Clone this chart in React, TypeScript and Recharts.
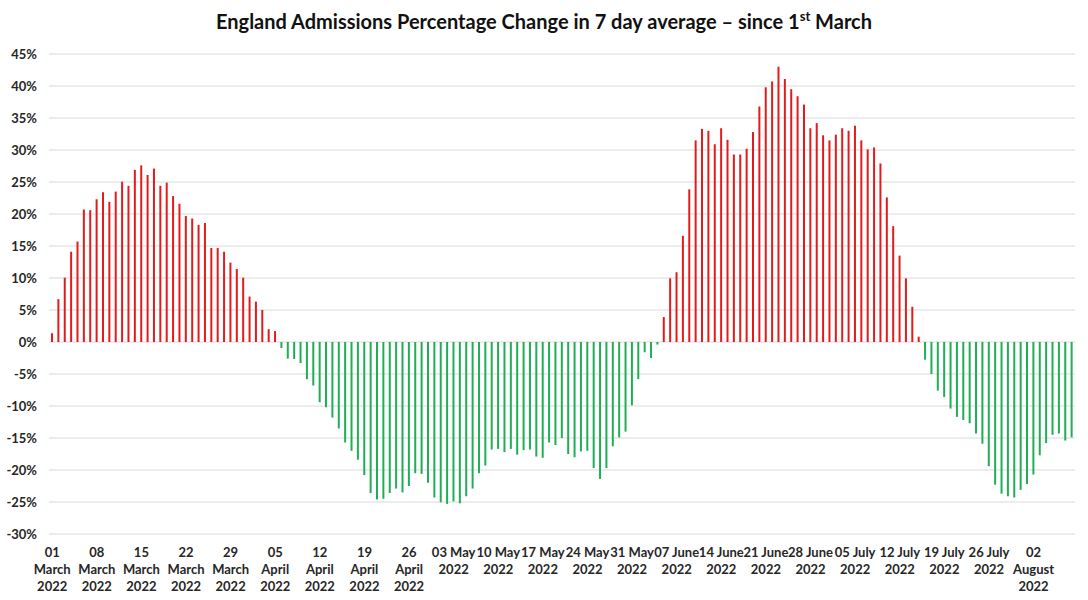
import React from "react";
import { BarChart, Bar, XAxis, YAxis, CartesianGrid, Cell } from "recharts";

// Percentage change in 7-day average admissions, one value per day from 01 March 2022
const marchWave = [
  1.35, 6.7, 10.05, 14.1, 15.7, 20.7, 20.6, 22.3, 23.4, 21.9,
  23.5, 25.05, 24.4, 26.9, 27.6, 26.1, 27.1, 24.4, 24.9, 22.8,
  21.6, 19.7, 19.3, 18.3, 18.6, 14.7, 14.7, 14.1, 12.4, 11.4,
  10.05, 7.1, 6.3, 5.0, 2.0, 1.7,
];
const aprilMayDecline = [
  -0.94, -2.6, -2.66, -3.3, -5.8, -6.8, -9.4, -10.2, -11.8, -13.5,
  -15.7, -17.0, -18.4, -20.8, -23.6, -24.6, -24.5, -23.6, -22.9, -23.5,
  -22.5, -20.5, -20.6, -22.0, -24.3, -25.05, -25.3, -24.9, -25.2, -24.1,
  -22.9, -20.5, -19.3, -16.8, -16.7, -17.2, -16.7, -17.6, -16.9, -16.8,
  -17.9, -18.1, -15.7, -16.1, -15.0, -17.5, -18.0, -17.1, -17.0, -19.7,
  -21.4, -19.7, -16.3, -14.9, -14.0, -9.9, -5.8, -1.6, -2.5, -0.4,
];
const juneJulyWave = [
  3.9, 9.95, 10.9, 16.6, 23.85, 31.5, 33.3, 33.0, 30.9, 33.4,
  31.6, 29.3, 29.3, 30.2, 32.8, 36.8, 39.8, 40.7, 43.0, 41.1,
  39.5, 38.4, 37.1, 33.4, 34.2, 32.3, 31.5, 32.4, 33.4, 33.0,
  33.8, 31.5, 30.1, 30.4, 27.9, 22.6, 18.1, 13.5, 9.95, 5.5,
  0.83,
];
const julyAugustDecline = [
  -2.76, -5.0, -7.6, -8.6, -10.4, -11.7, -12.2, -12.7, -14.3, -15.9,
  -19.4, -22.3, -23.7, -24.1, -24.3, -23.1, -22.2, -20.7, -17.7, -15.8,
  -14.5, -14.3, -15.4, -14.9,
];
const values = [...marchWave, ...aprilMayDecline, ...juneJulyWave, ...julyAugustDecline];

const monthNames = [
  "January", "February", "March", "April", "May", "June",
  "July", "August", "September", "October", "November", "December",
];
const categories = values.map((_, i) => {
  const d = new Date(Date.UTC(2022, 2, 1 + i));
  return `${String(d.getUTCDate()).padStart(2, "0")} ${monthNames[d.getUTCMonth()]} 2022`;
});

// Weekly tick labels (as wrapped in the original)
const tickLabels = [
  ["01", "March", "2022"], ["08", "March", "2022"], ["15", "March", "2022"],
  ["22", "March", "2022"], ["29", "March", "2022"], ["05", "April", "2022"],
  ["12", "April", "2022"], ["19", "April", "2022"], ["26", "April", "2022"],
  ["03 May", "2022"], ["10 May", "2022"], ["17 May", "2022"], ["24 May", "2022"],
  ["31 May", "2022"], ["07 June", "2022"], ["14 June", "2022"], ["21 June", "2022"],
  ["28 June", "2022"], ["05 July", "2022"], ["12 July", "2022"], ["19 July", "2022"],
  ["26 July", "2022"], ["02", "August", "2022"],
];
const yTicks = [-30, -25, -20, -15, -10, -5, 0, 5, 10, 15, 20, 25, 30, 35, 40, 45];

const data = categories.map((date, i) => ({ date, value: values[i] }));
const tickMap = new Map<string, string[]>();
tickLabels.forEach((lines, i) => tickMap.set(categories[i * 7], lines));

const FONT = "Lato, 'Liberation Sans', sans-serif";
const TEXT = "#262626";
const RED = "#E41B1B";
const GREEN = "#1FAE55";

const DateTick = (props: any) => {
  const { x, y, payload } = props;
  const lines = tickMap.get(payload.value) ?? [];
  return (
    <text
      x={x}
      y={y + 23}
      textAnchor="middle"
      fill={TEXT}
      fontFamily={FONT}
      fontWeight={700}
      fontSize={13}
    >
      {lines.map((l, i) => (
        <tspan key={i} x={x} dy={i === 0 ? 0 : 17}>
          {l}
        </tspan>
      ))}
    </text>
  );
};

export default function App() {
  return (
    <div
      style={{
        position: "absolute",
        left: 0,
        top: 0,
        width: 1088,
        height: 600,
        background: "#ffffff",
        fontFamily: FONT,
      }}
    >
      <div
        style={{
          position: "absolute",
          left: 0,
          top: 8,
          width: 1088,
          textAlign: "center",
          fontSize: 20,
          lineHeight: "26px",
          fontWeight: 700,
          color: "#111",
        }}
      >
        England Admissions Percentage Change in 7 day average – since 1
        <sup style={{ fontSize: 13, lineHeight: 0 }}>st</sup> March
      </div>
      <BarChart
        width={1088}
        height={600}
        data={data}
        margin={{ top: 54, right: 13, left: 0, bottom: 6 }}
      >
        <CartesianGrid vertical={false} stroke="#D9D9D9" />
        <XAxis
          dataKey="date"
          interval={6}
          tickLine={false}
          axisLine={false}
          tickSize={0}
          tickMargin={0}
          height={60}
          tick={<DateTick />}
        />
        <YAxis
          domain={[-30, 45]}
          ticks={yTicks}
          width={49}
          tickLine={false}
          axisLine={false}
          tickSize={0}
          tickMargin={12}
          interval={0}
          tickFormatter={(v: number) => `${v}%`}
          tick={{ fill: TEXT, fontFamily: FONT, fontWeight: 700, fontSize: 13 }}
        />
        <Bar dataKey="value" barSize={2} isAnimationActive={false}>
          {data.map((d, i) => (
            <Cell key={i} fill={d.value >= 0 ? RED : GREEN} />
          ))}
        </Bar>
      </BarChart>
    </div>
  );
}
